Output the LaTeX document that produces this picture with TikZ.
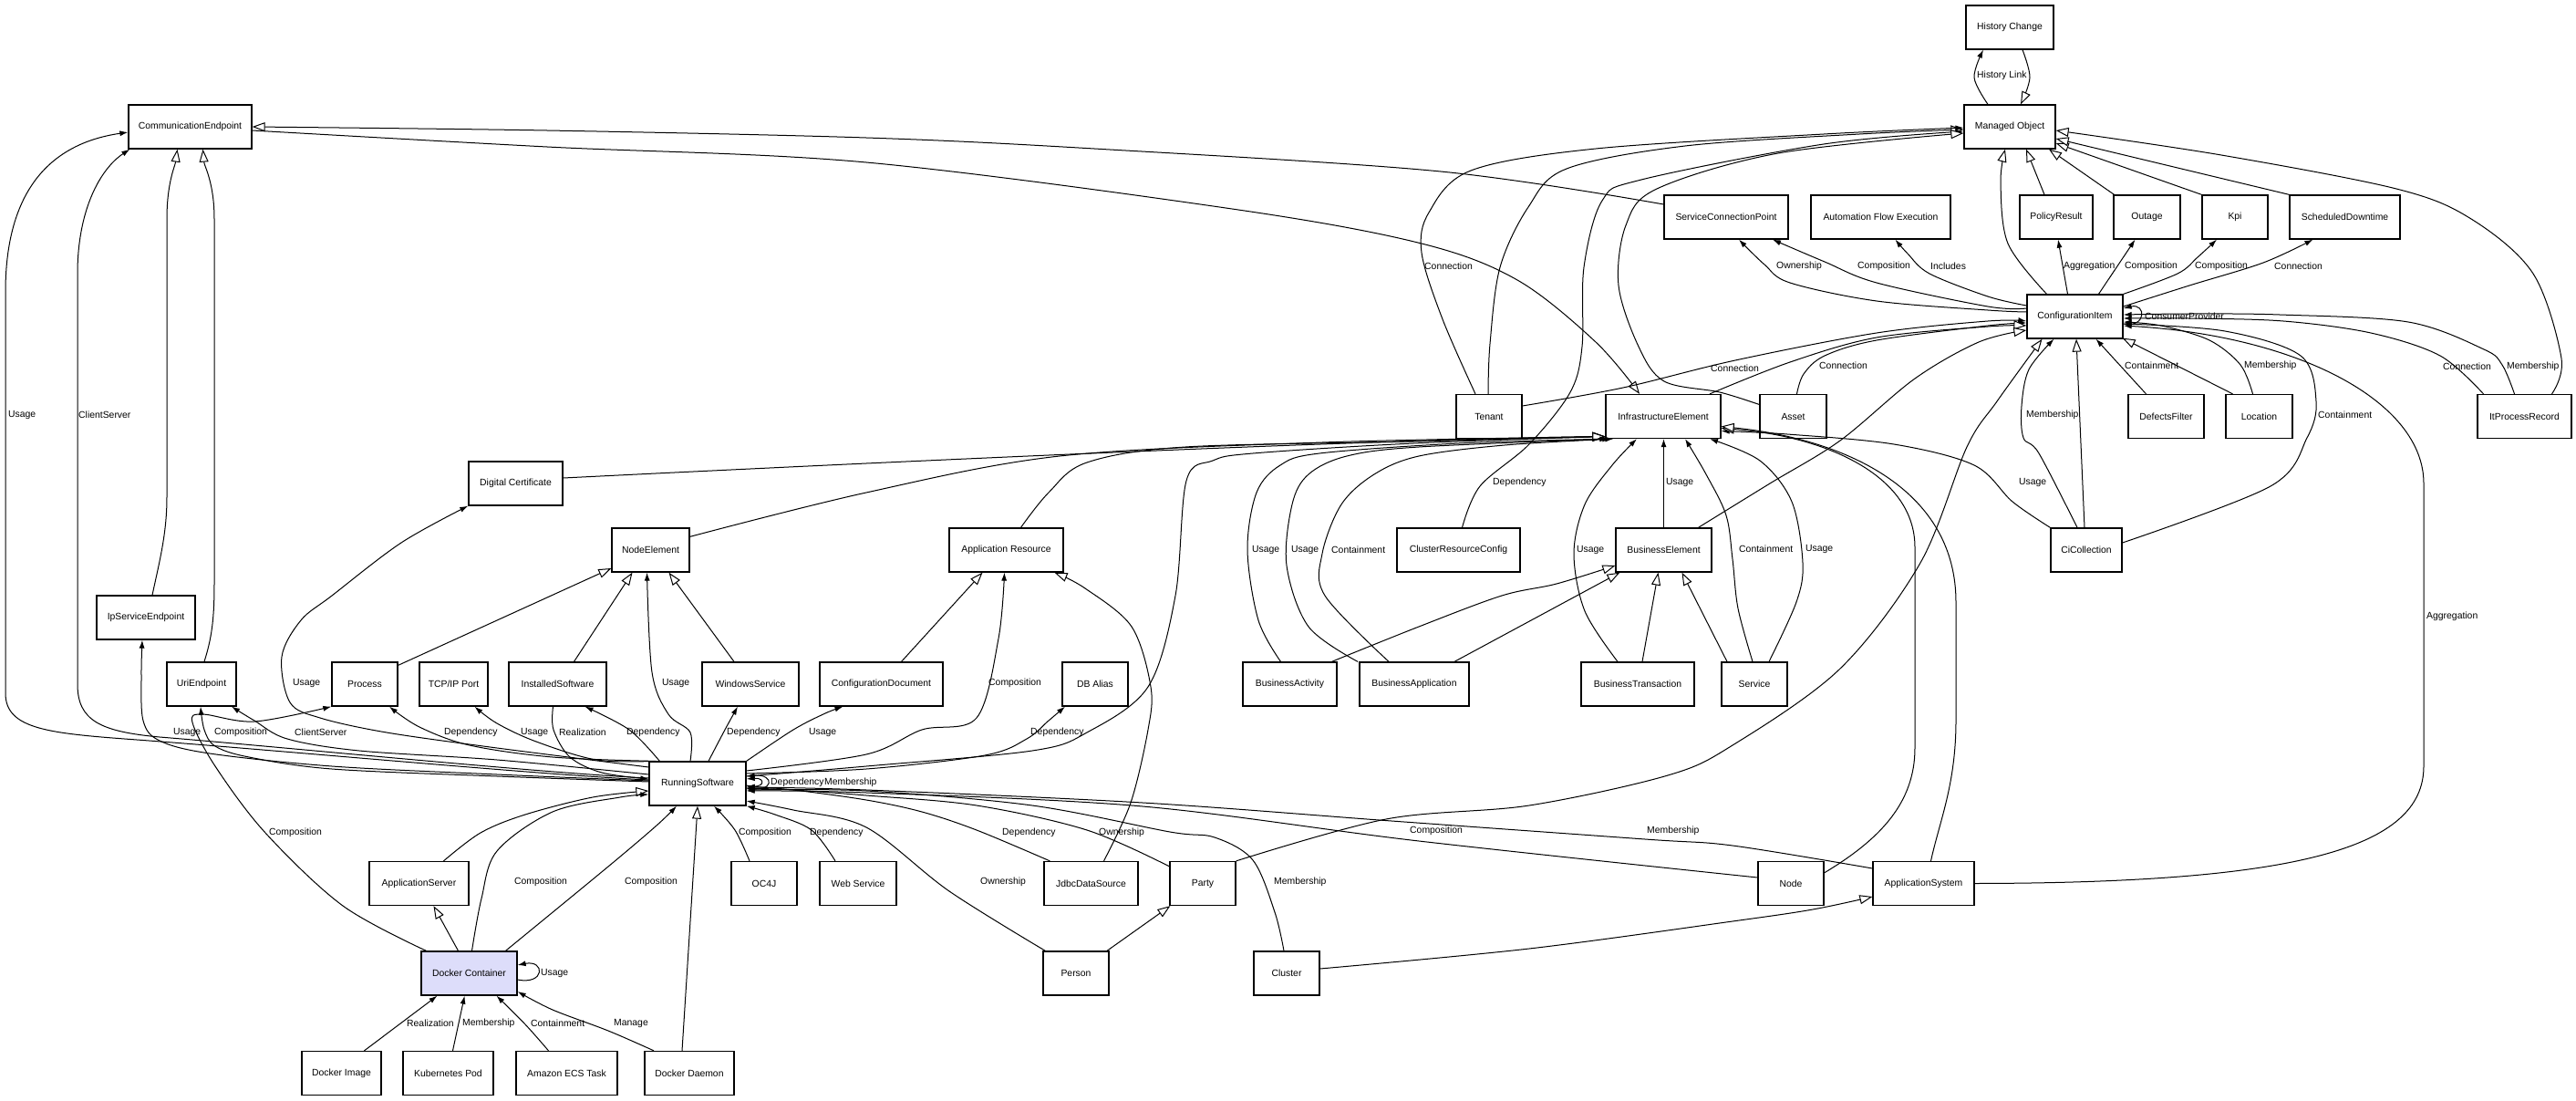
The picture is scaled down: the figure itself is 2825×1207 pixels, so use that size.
\documentclass[tikz,border=0pt]{standalone}
\usepackage{fontspec}
\setmainfont{Liberation Sans}
\usetikzlibrary{arrows.meta}
\definecolor{dcfill}{RGB}{221,221,250}
\newcommand\dfont{\fontsize{10.4}{12}\selectfont}
\begin{document}
\begin{tikzpicture}[x=1pt,y=-1pt,
  box/.style={draw, line width=1.3pt, fill=white, minimum height=48pt, inner sep=0pt, font=\dfont},
  lab/.style={font=\dfont, inner sep=0pt, anchor=west},
  ln/.style={line width=1pt},
  gen/.style={ln, -{Triangle[fill=white,length=14pt,width=10pt,line width=1pt]}},
  asc/.style={ln, -{Latex[length=9pt,width=6pt]}},
  sm/.style={smooth, tension=0.55}]
\fill[white] (0,0) rectangle (2825,1207);
\useasboundingbox (0,0) rectangle (2825,1207);
% ---------- nodes
\node[box, minimum width=96pt] (hc) at (2204,30) {History Change};
\node[box, minimum width=100pt] (mo) at (2204,139) {Managed Object};
\node[box, minimum width=135pt] (ce) at (208.5,139) {CommunicationEndpoint};
\node[box, minimum width=136pt] (scp) at (1893,238) {ServiceConnectionPoint};
\node[box, minimum width=153pt] (afe) at (2062.5,238) {Automation Flow Execution};
\node[box, minimum width=80pt] (pr) at (2255,238) {PolicyResult};
\node[box, minimum width=73pt] (out) at (2354.5,238) {Outage};
\node[box, minimum width=72pt] (kpi) at (2451,238) {Kpi};
\node[box, minimum width=121pt] (sd) at (2571.5,238) {ScheduledDowntime};
\node[box, minimum width=105pt] (ci) at (2275.5,347) {ConfigurationItem};
\node[box, minimum width=72pt] (ten) at (1633,456.5) {Tenant};
\node[box, minimum width=126pt] (ie) at (1824,456.5) {InfrastructureElement};
\node[box, minimum width=73pt] (ast) at (1966.5,456.5) {Asset};
\node[box, minimum width=83pt] (df) at (2375.5,456.5) {DefectsFilter};
\node[box, minimum width=73pt] (loc) at (2477.5,456.5) {Location};
\node[box, minimum width=103pt] (ipr) at (2768.5,456.5) {ItProcessRecord};
\node[box, minimum width=103pt] (dcert) at (565.5,530) {Digital Certificate};
\node[box, minimum width=85pt] (ne) at (713.5,603) {NodeElement};
\node[box, minimum width=125pt] (ar) at (1103.5,603) {Application Resource};
\node[box, minimum width=135pt] (crc) at (1599.5,603) {ClusterResourceConfig};
\node[box, minimum width=105pt] (be) at (1824.5,603) {BusinessElement};
\node[box, minimum width=78pt] (cic) at (2288,603) {CiCollection};
\node[box, minimum width=108pt] (ipse) at (160,677) {IpServiceEndpoint};
\node[box, minimum width=76pt] (uri) at (221,750) {UriEndpoint};
\node[box, minimum width=72pt] (proc) at (400,750) {Process};
\node[box, minimum width=75pt] (tcp) at (497.5,750) {TCP/IP Port};
\node[box, minimum width=107pt] (is) at (611.5,750) {InstalledSoftware};
\node[box, minimum width=106pt] (ws) at (823,750) {WindowsService};
\node[box, minimum width=135pt] (cd) at (966.5,750) {ConfigurationDocument};
\node[box, minimum width=72pt] (dba) at (1201,750) {DB Alias};
\node[box, minimum width=103pt] (ba) at (1414.5,750) {BusinessActivity};
\node[box, minimum width=120pt] (bapp) at (1551,750) {BusinessApplication};
\node[box, minimum width=124pt] (bt) at (1796,750) {BusinessTransaction};
\node[box, minimum width=72pt] (svc) at (1924,750) {Service};
\node[box, minimum width=106pt] (rs) at (765,859) {RunningSoftware};
\node[box, minimum width=109pt] (aps) at (459.5,968.5) {ApplicationServer};
\node[box, minimum width=72pt] (oc4j) at (838,968.5) {OC4J};
\node[box, minimum width=84pt] (wsv) at (941,968.5) {Web Service};
\node[box, minimum width=103pt] (jds) at (1196.5,968.5) {JdbcDataSource};
\node[box, minimum width=72pt] (party) at (1319,968.5) {Party};
\node[box, minimum width=72pt] (nd) at (1964,968.5) {Node};
\node[box, minimum width=111pt] (asys) at (2109.5,968.5) {ApplicationSystem};
\node[box, minimum width=105pt, fill=dcfill] (dc) at (514.5,1067) {Docker Container};
\node[box, minimum width=72pt] (person) at (1180,1067) {Person};
\node[box, minimum width=72pt] (cluster) at (1411,1067) {Cluster};
\node[box, minimum width=87pt] (dimg) at (374.5,1176.5) {Docker Image};
\node[box, minimum width=99pt] (kpod) at (491.5,1176.5) {Kubernetes Pod};
\node[box, minimum width=111pt] (ecs) at (621.5,1176.5) {Amazon ECS Task};
\node[box, minimum width=98pt] (dd) at (756,1176.5) {Docker Daemon};
% ---------- top
\draw[gen] plot[sm] coordinates {([xshift=14pt]hc.south) (2226,85) ([xshift=12pt]mo.north)};
\draw[asc] plot[sm] coordinates {([xshift=-24pt]mo.north) (2165,85) ([xshift=-29pt]hc.south)};
\node[lab] (l1) at (2168,83) {History Link};
\draw[gen] plot[sm] coordinates {([yshift=14pt]scp.west) (1580,188) (1200,163) (950,151) (600,143) (ce.east)};
\draw[gen] plot[sm] coordinates {([yshift=-4pt]ce.east) (600,161) (950,178) (1358,230) (1559,267) (1664,307) (1750,375) ([xshift=-26pt]ie.north)};
\draw[gen] plot[sm] coordinates {([xshift=-1pt]ten.north) (1634,377) (1645,293) (1676,227) (1718,185) (1848,160) (2039,147) ([yshift=-3pt]mo.west)};
\draw[asc] plot[sm] coordinates {([xshift=-15pt]ten.north) (1582,350) (1559,277) (1567,233) (1613,187) (1750,163) (2000,147) ([yshift=-1pt]mo.west)};
\node[lab] (l2) at (1562,292) {Connection};
\draw[asc] plot[sm] coordinates {([xshift=4pt]crc.north) (1623,533) (1677,487) (1722,430) (1735,380) (1737,293) (1757,220) (1800,197) (2000,158) ([yshift=-5pt]mo.west)};
\node[lab] (l3) at (1637,529) {Dependency};
\draw[gen] plot[sm] coordinates {([yshift=13pt]ast.west) (1886,430) (1825,418) (1797,380) (1775,313) (1783,247) (1817,207) (1950,168) ([yshift=-7pt]mo.west)};
\draw[gen] plot[sm] coordinates {([xshift=-31pt]ci.north) (2202,267) (2194,200) ([xshift=-5pt]mo.south)};
\draw[gen] ([xshift=-13pt]pr.north) -- ([xshift=18pt]mo.south);
\draw[gen] ([xshift=-36pt]out.north) -- ([xshift=43pt]mo.south);
\draw[gen] (kpi.north west) -- ([yshift=-18pt]mo.east);
\draw[gen] (sd.north west) -- ([yshift=-13pt]mo.east);
\draw[gen] plot[sm] coordinates {([xshift=30pt]ipr.north) (2809,393) (2778,300) (2710,240) (2628,207) (2436,170) ([yshift=-4pt]mo.east)};
% ---------- CI top
\draw[asc] plot[sm] coordinates {([yshift=5pt]ci.west) (2180,340) (2058,330) (1963,310) (1935,290) ([xshift=14pt]scp.south)};
\node[lab] (l4) at (1948,292) {Ownership};
\draw[asc] plot[sm] coordinates {([yshift=9pt]ci.west) (2180,336) (2058,310) (2001,287) ([xshift=51pt]scp.south)};
\node[lab] (l5) at (2037,292) {Composition};
\draw[asc] plot[sm] coordinates {([yshift=12pt]ci.west) (2180,325) (2116,300) (2092,278) ([xshift=16pt]afe.south)};
\node[lab] (l6) at (2117,292) {Includes};
\draw[asc] ([xshift=-8pt]ci.north) -- ([xshift=2pt]pr.south);
\node[lab] (l7) at (2263,292) {Aggregation};
\draw[asc] ([xshift=26pt]ci.north) -- ([xshift=-13pt]out.south);
\node[lab] (l8) at (2330,292) {Composition};
\draw[asc] plot[sm] coordinates {(ci.north east) (2388,300) (2410,282) ([xshift=-20pt]kpi.south)};
\node[lab] (l9) at (2407,292) {Composition};
\draw[asc] plot[sm] coordinates {([yshift=11pt]ci.east) (2401,313) (2482,288) ([xshift=-35pt]sd.south)};
\node[lab] (l10) at (2494,292) {Connection};
% ---------- CI others
\draw[asc] plot[sm] coordinates {([yshift=11.5pt]ten.east) (1780,425) (1903,395) (2058,365) (2180,352) ([yshift=-5pt]ci.west)};
\node[lab] (l11) at (1876,404) {Connection};
\draw[asc] plot[sm] coordinates {([xshift=4pt]ast.north) (1978,410) (2001,390) (2058,373) (2180,357) ([yshift=-7pt]ci.west)};
\node[lab] (l12) at (1995,401) {Connection};
\draw[gen] plot[sm] coordinates {([xshift=51pt]ie.north) (1963,397) (2058,370) (2180,358) ([yshift=-10pt]ci.west)};
\draw[gen] plot[sm] coordinates {([xshift=38pt]be.north) (1941,530) (2018,483) (2100,415) (2170,375) ([yshift=-15pt]ci.west)};
\draw[gen] plot[sm] coordinates {(party.north east) (1520,898) (1677,883) (1829,850) (1900,817) (2018,733) (2106,617) (2157,490) (2190,440) ([xshift=-36pt]ci.south)};
\draw[asc] plot[sm] coordinates {([xshift=-10pt]cic.north) (2236,497) (2219,480) (2217,445) (2225,405) ([xshift=-23pt]ci.south)};
\node[lab] (l13) at (2222,455) {Membership};
\draw[gen] ([xshift=-2pt]cic.north) -- ([xshift=1.5pt]ci.south);
\draw[asc] ([xshift=-22pt]df.north) -- ([xshift=23pt]ci.south);
\node[lab] (l14) at (2330,401) {Containment};
\draw[gen] ([xshift=-29pt]loc.north) -- ([xshift=-1pt,yshift=1pt]ci.south east);
\draw[asc] plot[sm] coordinates {([xshift=-7pt]loc.north) (2457,400) (2423,373) (2370,357) ([yshift=-6pt]ci.east)};
\node[lab] (l15) at (2461,401) {Membership};
\draw[asc] plot[sm] coordinates {([yshift=8pt]cic.east) (2490,533) (2530,480) (2540,440) (2523,390) (2440,363) ([yshift=-8pt]ci.east)};
\node[lab] (l16) at (2542,455) {Containment};
\draw[asc] (asys.east) .. controls (2520,968) and (2658,930) .. (2658,840) -- (2658,530) .. controls (2658,440) and (2520,368) .. ([yshift=-10pt]ci.east);
\node[lab] (l17) at (2661,676) {Aggregation};
\draw[asc] plot[sm] coordinates {([xshift=-45pt]ipr.north) (2676,390) (2600,365) (2504,352) (2400,349) ([yshift=-2pt]ci.east)};
\node[lab] (l18) at (2679,402) {Connection};
\draw[asc] plot[sm] coordinates {([xshift=-11pt]ipr.north) (2744,400) (2724,383) (2641,353) (2500,345) (2400,344) ([yshift=2pt]ci.east)};
\node[lab] (l19) at (2749,402) {Membership};
\draw[asc] ([yshift=-8pt]ci.east) .. controls (2354,360) and (2354,332) .. ([yshift=9pt]ci.east);
\node[lab] (l20) at (2352,347) {ConsumerProvider};
% ---------- IE
\draw[gen] ([yshift=6pt]dcert.east) .. controls (1000,505) and (1500,482) .. ([yshift=-22pt]ie.west);
\draw[gen] plot[sm] coordinates {([yshift=-10pt]ne.north east) (950,540) (1162,500) (1450,485) ([yshift=-22pt]ie.west)};
\draw[gen] plot[sm] coordinates {([xshift=16pt]ar.north) (1150,540) (1192,507) (1300,490) (1550,484) ([yshift=-22pt]ie.west)};
\draw[gen] plot[sm] coordinates {([yshift=8pt]rs.east) (950,840) (1132,823) (1192,803) (1259,753) (1289,653) (1301,527) (1330,505) (1374,497) (1550,486) ([yshift=-22pt]ie.west)};
\draw[asc] plot[sm] coordinates {([xshift=-10pt]ba.north) (1380,680) (1368,603) (1378,540) (1404,510) (1447,497) (1600,486) ([xshift=3pt]ie.south west)};
\node[lab] (l21) at (1373,603) {Usage};
\draw[asc] plot[sm] coordinates {([xshift=-62pt]bapp.north) (1435,687) (1411,620) (1417,553) (1435,520) (1477,500) (1556,490) ([xshift=6pt]ie.south west)};
\node[lab] (l22) at (1416,603) {Usage};
\draw[asc] plot[sm] coordinates {([xshift=-28pt]bapp.north) (1453,653) (1450,607) (1471,553) (1507,520) (1556,500) (1650,488) ([xshift=9pt]ie.south west)};
\node[lab] (l23) at (1460,603) {Containment};
\draw[asc] plot[sm] coordinates {([xshift=-22pt]bt.north) (1738,670) (1726,607) (1738,553) (1768,510) ([xshift=-29pt]ie.south)};
\node[lab] (l24) at (1729,603) {Usage};
\draw[asc] (be.north) -- ([xshift=0.5pt]ie.south);
\node[lab] (l25) at (1827,529) {Usage};
\draw[asc] plot[sm] coordinates {([xshift=-2pt]svc.north) (1906,667) (1900,613) (1893,565) (1871,520) ([xshift=24pt]ie.south)};
\node[lab] (l26) at (1907,602) {Containment};
\draw[asc] plot[sm] coordinates {([xshift=16pt]svc.north) (1970,660) (1977,617) (1965,550) (1930,505) ([xshift=51pt]ie.south)};
\node[lab] (l27) at (1980,602) {Usage};
\draw[gen] ([xshift=-30pt]svc.north) -- ([xshift=20pt]be.south);
\draw[gen] ([xshift=5pt]bt.north) -- ([xshift=-6pt]be.south);
\draw[gen] ([xshift=44pt]bapp.north) -- ([xshift=5pt]be.south west);
\draw[gen] plot[sm] coordinates {([xshift=46pt]ba.north) (1556,687) (1647,653) (1707,640) ([yshift=-17pt]be.west)};
\draw[asc] plot[sm] coordinates {(cic.north west) (2207,550) (2165,510) (2077,487) (1960,476) ([yshift=-16pt]ie.east)};
\node[lab] (l28) at (2214,529) {Usage};
\draw[gen] ([yshift=-13pt]nd.north east) .. controls (2062,920) and (2100,880) .. (2100,820) -- (2100,600) .. controls (2100,520) and (2000,478) .. ([yshift=-13pt]ie.east);
\draw[gen] ([xshift=8pt]asys.north) .. controls (2127,900) and (2145,860) .. (2145,790) -- (2145,660) .. controls (2145,540) and (2030,482) .. ([yshift=-11pt]ie.east);
% ---------- CE
\draw[gen] ([xshift=7pt]ipse.north) .. controls (175,615) and (183,585) .. (183,545) -- (183,240) .. controls (183,200) and (192,182) .. ([xshift=-14pt]ce.south);
\draw[gen] ([xshift=3pt]uri.north) .. controls (232,700) and (235,680) .. (235,640) -- (235,240) .. controls (235,200) and (224,182) .. ([xshift=14pt]ce.south);
\draw[asc] ([yshift=4pt]rs.west) .. controls (600,850) and (300,822) .. (150,811) .. controls (55,804) and (6,800) .. (6,760) -- (6,320) .. controls (6,215) and (50,158) .. ([yshift=-6pt]ce.west);
\node[lab] (l29) at (9,455) {Usage};
\draw[asc] ([yshift=6pt]rs.west) .. controls (600,848) and (300,818) .. (175,808) .. controls (110,802) and (85,790) .. (85,750) -- (85,300) .. controls (85,230) and (110,185) .. ([xshift=2pt]ce.south west);
\node[lab] (l30) at (86,455) {ClientServer};
\draw[asc] plot[sm] coordinates {([yshift=3pt]rs.west) (545,849) (364,840) (230,826) (175,812) (157,790) (155,740) ([xshift=-4pt]ipse.south)};
\node[lab] (l31) at (190,803) {Usage};
\draw[asc] plot[sm] coordinates {([yshift=2pt]rs.west) (545,851) (364,843) (273,830) (236,818) (224,800) ([xshift=-1pt]uri.south)};
\node[lab] (l32) at (235,803) {Composition};
\draw[asc] plot[sm] coordinates {([yshift=10pt]rs.west) (545,833) (394,823) (315,810) (279,790) ([xshift=33pt]uri.south)};
\node[lab] (l33) at (323,803) {ClientServer};
\draw[asc] plot[sm] coordinates {([xshift=-47pt]dc.north) (376,993) (291,913) (236,840) (211,792) (222,783) (279,791) (proc.south west)};
\node[lab] (l34) at (295,913) {Composition};
% ---------- RS top side
\draw[gen] ([yshift=-4pt]proc.north east) -- ([yshift=-20pt]ne.west);
\draw[gen] ([xshift=18pt]is.north) -- ([xshift=-20pt]ne.south);
\draw[gen] ([xshift=-18pt]ws.north) -- ([xshift=20pt]ne.south);
\draw[gen] ([xshift=22pt]cd.north) -- ([xshift=-26pt]ar.south);
\draw[asc] plot[sm] coordinates {([xshift=4pt]rs.north west) (606,830) (515,817) (460,797) ([xshift=27pt]proc.south)};
\node[lab] (l35) at (487,803) {Dependency};
\draw[asc] plot[sm] coordinates {([xshift=8pt]rs.north west) (654,833) (588,813) (545,793) ([xshift=23pt]tcp.south)};
\node[lab] (l36) at (571,803) {Usage};
\draw[asc] plot[sm] coordinates {([xshift=-5pt]is.south) (607,800) (625,830) (660,847) ([yshift=5pt]rs.west)};
\node[lab] (l37) at (613,803) {Realization};
\draw[asc] plot[sm] coordinates {([xshift=12pt]rs.north west) (690,800) ([xshift=30pt]is.south)};
\node[lab] (l38) at (687,803) {Dependency};
\draw[asc] plot[sm] coordinates {([xshift=-8pt]rs.north) (757,803) (733,783) (715,737) ([xshift=-4pt]ne.south)};
\node[lab] (l39) at (726,749) {Usage};
\draw[asc] plot[sm] coordinates {([xshift=12pt]rs.north) (795,800) ([xshift=-14pt]ws.south)};
\node[lab] (l40) at (797,803) {Dependency};
\draw[asc] plot[sm] coordinates {(rs.north east) (870,800) (905,782) ([xshift=-42pt]cd.south)};
\node[lab] (l41) at (887,803) {Usage};
\draw[asc] plot[sm] coordinates {([yshift=14pt]rs.east) (950,827) (1011,800) (1071,787) (1095,700) ([xshift=-2pt]ar.south)};
\node[lab] (l42) at (1084,749) {Composition};
\draw[asc] plot[sm] coordinates {([yshift=11pt]rs.east) (950,843) (1080,828) (1126,810) (1150,790) ([xshift=-33pt]dba.south)};
\node[lab] (l43) at (1130,803) {Dependency};
\draw[asc] plot[sm] coordinates {([yshift=18pt]rs.west) (545,820) (424,803) (351,787) (318,770) (309,720) (330,680) (364,653) (440,595) (dcert.south west)};
\node[lab] (l44) at (321,749) {Usage};
\draw[gen] plot[sm] coordinates {([xshift=14pt]jds.north) (1240,880) (1259,800) (1262,753) (1241,687) (1190,645) ([xshift=53pt]ar.south)};
% ---------- RS right side
\draw[asc] ([yshift=-2pt]rs.east) .. controls (840,866) and (840,852) .. ([yshift=5pt]rs.east);
\draw[asc] ([yshift=-5pt]rs.east) .. controls (850,870) and (850,848) .. ([yshift=8pt]rs.east);
\node[lab] (l45) at (845,858) {Dependency};
\node[lab] (l46) at (904,858) {Membership};
\draw[asc] plot[sm] coordinates {([xshift=7pt]jds.north west) (1071,910) (1011,890) (950,877) (870,866) ([yshift=-3pt]rs.east)};
\node[lab] (l47) at (1099,913) {Dependency};
\draw[asc] plot[sm] coordinates {([yshift=-6pt]party.north west) (1192,910) (1071,883) (950,872) (870,866) ([yshift=-5pt]rs.east)};
\node[lab] (l48) at (1205,913) {Ownership};
\draw[asc] plot[sm] coordinates {([xshift=3pt]person.north west) (1041,977) (950,907) (870,888) ([yshift=-19pt]rs.east)};
\node[lab] (l49) at (1075,967) {Ownership};
\draw[asc] plot[sm] coordinates {([xshift=-3pt]cluster.north) (1398,1000) (1374,943) (1332,918) (1283,912) (1132,883) (950,867) ([yshift=-7pt]rs.east)};
\node[lab] (l50) at (1397,967) {Membership};
\draw[asc] plot[sm] coordinates {([yshift=6.5pt]nd.west) (1556,922) (1253,884) (950,869) ([yshift=-8pt]rs.east)};
\node[lab] (l51) at (1546,911) {Composition};
\draw[asc] plot[sm] coordinates {([yshift=16.5pt]asys.west) (1900,927) (1804,920) (1526,900) (1253,880) (950,866) ([yshift=-4pt]rs.east)};
\node[lab] (l52) at (1806,911) {Membership};
% ---------- RS bottom side
\draw[asc] plot[sm] coordinates {([xshift=-16pt]oc4j.north) (806,910) ([xshift=18pt]rs.south)};
\node[lab] (l53) at (810,913) {Composition};
\draw[asc] plot[sm] coordinates {([xshift=-25pt]wsv.north) (890,910) (850,893) (rs.south east)};
\node[lab] (l54) at (888,913) {Dependency};
\draw[gen] plot[sm] coordinates {([xshift=27pt]aps.north) (527,913) (576,893) (650,874) ([yshift=-8pt]rs.west)};
\draw[asc] plot[sm] coordinates {([xshift=3pt]dc.north) (528,985) (545,933) (606,890) (680,874) ([yshift=-12pt]rs.west)};
\node[lab] (l55) at (564,967) {Composition};
\draw[asc] plot[sm] coordinates {([xshift=40pt]dc.north) (667,950) (720,905) ([xshift=-23pt]rs.south)};
\node[lab] (l56) at (685,967) {Composition};
\draw[gen] ([xshift=-8pt]dd.north) -- (rs.south);
\draw[gen] ([xshift=-12pt]dc.north) -- ([xshift=16pt]aps.south);
% ---------- Docker Container
\draw[asc] ([yshift=-7pt]dc.east) .. controls (598,1080) and (598,1052) .. ([yshift=9pt]dc.east);
\node[lab] (l57) at (593,1067) {Usage};
\draw[asc] ([xshift=25pt]dimg.north) -- ([xshift=-35pt]dc.south);
\node[lab] (l58) at (446,1122) {Realization};
\draw[asc] ([xshift=5pt]kpod.north) -- ([xshift=-5pt]dc.south);
\node[lab] (l59) at (507,1122) {Membership};
\draw[asc] plot[sm] coordinates {([xshift=-20pt]ecs.north) (576,1123) ([xshift=30pt]dc.south)};
\node[lab] (l60) at (582,1122) {Containment};
\draw[asc] plot[sm] coordinates {([xshift=-39pt]dd.north) (667,1130) (606,1107) ([yshift=-20pt]dc.east)};
\node[lab] (l61) at (673,1122) {Manage};
% ---------- others
\draw[gen] ([xshift=34pt]person.north) -- ([xshift=1pt]party.south west);
\draw[gen] plot[sm] coordinates {([yshift=5pt]cluster.east) (1677,1040) (1900,1010) (1988,997) ([yshift=-14.5pt]asys.west)};
\end{tikzpicture}
\end{document}
